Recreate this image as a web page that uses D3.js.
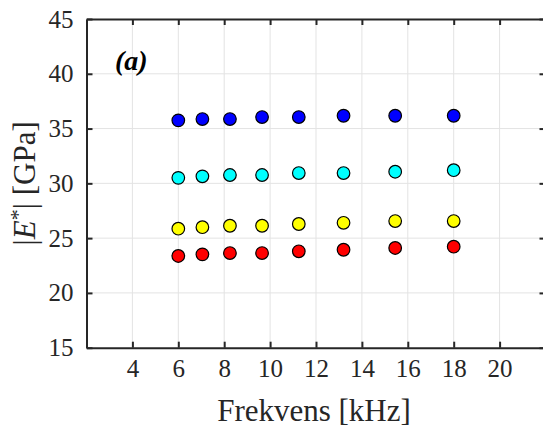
<!DOCTYPE html>
<html>
<head>
<meta charset="utf-8">
<script src="https://cdn.jsdelivr.net/npm/d3@7"></script>
<style>
  html, body { margin: 0; padding: 0; background: #fff; }
  svg { display: block; overflow: hidden; }
</style>
</head>
<body>
<div id="chart"></div>
<script>
// frequencies [kHz]
const freq = [6, 7.05, 8.25, 9.65, 11.25, 13.2, 15.45, 18];

// |E*| [GPa] per series
const seriesBlue   = [35.75, 35.87, 35.87, 36.05, 36.05, 36.17, 36.17, 36.17];
const seriesCyan   = [30.5, 30.64, 30.76, 30.76, 30.94, 30.94, 31.06, 31.2];
const seriesYellow = [25.86, 26.0, 26.13, 26.13, 26.29, 26.4, 26.56, 26.56];
const seriesRed    = [23.37, 23.52, 23.64, 23.64, 23.8, 23.94, 24.1, 24.22];

const xTicks = [4, 6, 8, 10, 12, 14, 16, 18, 20];
const yTicks = [15, 20, 25, 30, 35, 40, 45];

const series = [
  { vals: seriesBlue, color: "#0000ff" },
  { vals: seriesCyan, color: "#00ffff" },
  { vals: seriesYellow, color: "#ffff00" },
  { vals: seriesRed, color: "#ff0000" }
];

const W = 543, H = 427;
const pLeft = 86.5, pRight = 545.5, pTop = 19, pBottom = 347.7;
const FONT = "Liberation Serif";
const INK = "#262626";

const svg = d3.select("#chart").append("svg")
  .attr("width", W)
  .attr("height", H);

const x = d3.scaleLinear().domain([2, 22]).range([pLeft, pRight]);
const y = d3.scaleLinear().domain([15, 45]).range([pBottom, pTop]);

// grid
const grid = svg.append("g");
grid.selectAll("line.gx").data(xTicks).join("line")
  .attr("x1", d => x(d)).attr("x2", d => x(d))
  .attr("y1", pTop).attr("y2", pBottom)
  .attr("stroke", "#e3e3e3").attr("stroke-width", 1);
grid.selectAll("line.gy").data(yTicks.slice(1, -1)).join("line")
  .attr("x1", pLeft).attr("x2", pRight)
  .attr("y1", d => y(d)).attr("y2", d => y(d))
  .attr("stroke", "#e3e3e3").attr("stroke-width", 1);

// axes (ticks inward, box on)
const tickLen = 6;
const xAxis = d3.axisBottom(x).tickValues(xTicks).tickSizeInner(-tickLen).tickSizeOuter(0).tickPadding(12);
const xTop = d3.axisTop(x).tickValues(xTicks).tickSizeInner(-tickLen).tickSizeOuter(0).tickFormat("");
const yAxis = d3.axisLeft(y).tickValues(yTicks).tickSizeInner(-tickLen).tickSizeOuter(0).tickPadding(13);
const yRight = d3.axisRight(y).tickValues(yTicks).tickSizeInner(-tickLen).tickSizeOuter(0).tickFormat("");

function style(g) {
  g.attr("font-family", FONT).attr("font-size", 25);
  g.select(".domain").attr("stroke", INK).attr("stroke-width", 2);
  g.selectAll(".tick line").attr("stroke", INK).attr("stroke-width", 2);
  g.selectAll(".tick text").attr("fill", INK);
}

svg.append("g").attr("transform", `translate(0,${pBottom})`).call(xAxis).call(style);
svg.append("g").attr("transform", `translate(0,${pTop})`).call(xTop).call(style);
svg.append("g").attr("transform", `translate(${pLeft},0)`).call(yAxis).call(style);
svg.append("g").attr("transform", `translate(${pRight},0)`).call(yRight).call(style);

// points
series.forEach(s => {
  svg.append("g").selectAll("circle").data(s.vals).join("circle")
    .attr("cx", (d, i) => x(freq[i]))
    .attr("cy", d => y(d))
    .attr("r", 6.3)
    .attr("fill", s.color)
    .attr("stroke", "#000")
    .attr("stroke-width", 1.2);
});

// labels
svg.append("text")
  .attr("x", 314)
  .attr("y", 421)
  .attr("text-anchor", "middle")
  .attr("fill", INK)
  .attr("font-family", FONT)
  .attr("font-size", 31)
  .text("Frekvens [kHz]");

const yl = svg.append("text")
  .attr("transform", `translate(35,${(pTop + pBottom) / 2}) rotate(-90)`)
  .attr("text-anchor", "middle")
  .attr("fill", INK)
  .attr("font-family", FONT)
  .attr("font-size", 31);
yl.append("tspan").text("|");
yl.append("tspan").attr("font-style", "italic").text("E");
yl.append("tspan").attr("dy", -10).attr("font-size", 22).text("*");
yl.append("tspan").attr("dy", 10).text("| [GPa]");

svg.append("text")
  .attr("x", 115)
  .attr("y", 70)
  .attr("fill", "#000")
  .attr("font-family", FONT)
  .attr("font-size", 28)
  .attr("font-weight", "bold")
  .attr("font-style", "italic")
  .text("(a)");
</script>
</body>
</html>
